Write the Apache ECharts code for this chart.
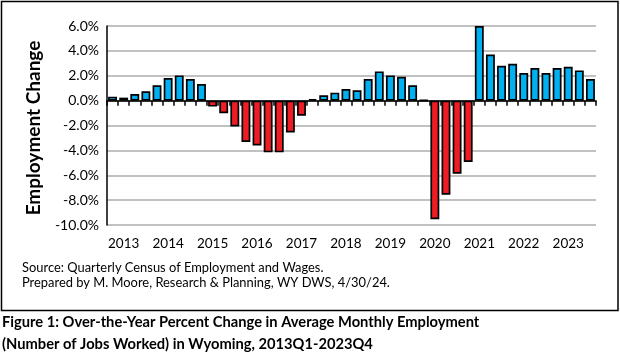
<!DOCTYPE html>
<html>
<head>
<meta charset="utf-8">
<script src="https://cdn.jsdelivr.net/npm/echarts@6/dist/echarts.min.js"></script>
<style>
html,body{margin:0;padding:0;background:#fff;}
#chart{width:620px;height:363px;}
</style>
</head>
<body>
<div id="chart"></div>
<script>
var quarters = [
  '2013Q1','2013Q2','2013Q3','2013Q4',
  '2014Q1','2014Q2','2014Q3','2014Q4',
  '2015Q1','2015Q2','2015Q3','2015Q4',
  '2016Q1','2016Q2','2016Q3','2016Q4',
  '2017Q1','2017Q2','2017Q3','2017Q4',
  '2018Q1','2018Q2','2018Q3','2018Q4',
  '2019Q1','2019Q2','2019Q3','2019Q4',
  '2020Q1','2020Q2','2020Q3','2020Q4',
  '2021Q1','2021Q2','2021Q3','2021Q4',
  '2022Q1','2022Q2','2022Q3','2022Q4',
  '2023Q1','2023Q2','2023Q3','2023Q4'
];
var yearLabels = ['2013','2014','2015','2016','2017','2018','2019','2020','2021','2022','2023'];
var pctChange = [
  0.32, 0.24, 0.53, 0.75,
  1.23, 1.81, 2.03, 1.74,
  1.34, -0.48, -1.01, -2.08,
  -3.33, -3.60, -4.16, -4.16,
  -2.56, -1.22, 0.12, 0.43,
  0.64, 0.94, 0.83, 1.74,
  2.35, 2.03, 1.92, 1.23,
  0.03, -9.54, -7.57, -5.87,
  -4.93, 6.00, 3.71, 2.80,
  2.96, 2.22, 2.62, 2.22,
  2.62, 2.72, 2.43, 1.74
];
var yTicks = [-10, -8, -6, -4, -2, 0, 2, 4, 6];

var FONT = 'Lato';
var chart = echarts.init(document.getElementById('chart'), null, {renderer: 'canvas'});
var barData = pctChange.map(function (v) {
  return { value: v, itemStyle: { color: v >= 0 ? '#00B0F0' : '#EE1C25' } };
});
chart.setOption({
  animation: false,
  backgroundColor: '#fff',
  grid: { left: 107, right: 24, top: 26, bottom: 138, containLabel: false },
  xAxis: [
    {
      type: 'category', data: quarters, position: 'bottom',
      axisLine: { onZero: true, lineStyle: { color: '#000', width: 1.5 } },
      axisTick: { show: true, interval: 0, length: 5, lineStyle: { color: '#000', width: 1.5 } },
      axisLabel: { show: false },
      splitLine: { show: false }
    },
    {
      type: 'category', data: quarters, position: 'bottom',
      axisLine: { show: false, onZero: false },
      axisTick: { show: false },
      axisLabel: {
        show: true, interval: 0, margin: 12,
        fontFamily: FONT, fontSize: 13.5, color: '#000',
        formatter: function (val, idx) {
          return idx % 4 === 1 ? yearLabels[(idx - 1) / 4] : '';
        }
      }
    }
  ],
  yAxis: {
    type: 'value', min: yTicks[0], max: yTicks[yTicks.length - 1], interval: 2,
    axisLine: { show: true, lineStyle: { color: '#000', width: 1.5 } },
    axisTick: { show: false },
    axisLabel: {
      fontFamily: FONT, fontSize: 14, color: '#000', margin: 8,
      formatter: function (v) { return v.toFixed(1) + '%'; }
    },
    splitLine: { show: true, lineStyle: { color: '#ADADAD', width: 1.5 } }
  },
  series: [{
    type: 'bar', xAxisIndex: 0, data: barData, barWidth: '80%',
    itemStyle: { borderColor: '#000', borderWidth: 1.7 }
  }],
  graphic: [
    { type: 'rect', shape: { x: 1.5, y: 1.5, width: 616.5, height: 309 },
      style: { fill: 'none', stroke: '#000', lineWidth: 1.5 }, z: 100 },
    { type: 'text', x: 34, y: 128, rotation: Math.PI / 2,
      style: { text: 'Employment Change', font: 'bold 19px ' + FONT, fill: '#000',
               textAlign: 'center', textVerticalAlign: 'middle' } },
    { type: 'text', x: 22, y: 268,
      style: { text: 'Source: Quarterly Census of Employment and Wages.', font: '12.9px ' + FONT,
               fill: '#000', textAlign: 'left', textVerticalAlign: 'middle' } },
    { type: 'text', x: 22, y: 283,
      style: { text: 'Prepared by M. Moore, Research & Planning, WY DWS, 4/30/24.', font: '12.9px ' + FONT,
               fill: '#000', textAlign: 'left', textVerticalAlign: 'middle' } },
    { type: 'text', x: 2, y: 322,
      style: { text: 'Figure 1: Over-the-Year Percent Change in Average Monthly Employment', font: 'bold 14.7px ' + FONT,
               fill: '#000', textAlign: 'left', textVerticalAlign: 'middle' } },
    { type: 'text', x: 2, y: 344,
      style: { text: '(Number of Jobs Worked) in Wyoming, 2013Q1-2023Q4', font: 'bold 14.7px ' + FONT,
               fill: '#000', textAlign: 'left', textVerticalAlign: 'middle' } }
  ]
});
</script>
</body>
</html>
